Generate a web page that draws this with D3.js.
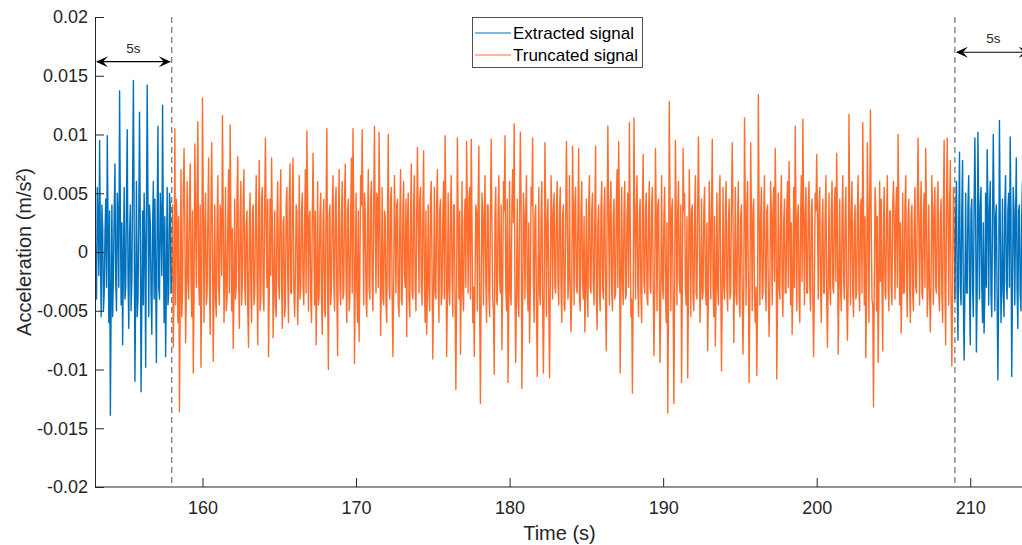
<!DOCTYPE html>
<html>
<head>
<meta charset="utf-8">
<script src="https://cdn.jsdelivr.net/npm/d3@7"></script>
<style>
  html, body { margin: 0; padding: 0; background: #fff; }
  svg { display: block; font-family: "Liberation Sans", Arial, Helvetica, sans-serif; }
</style>
</head>
<body>
<svg id="chart" width="1022" height="545"></svg>
<script>
// ---------------- data (acceleration in units of 1e-4 m/s²) ----------------
const sampleInterval = 0.05;          // s
const extractedStartTime = 153.0;     // s
const truncatedStartTime = 158.0;     // s
const extractedEndTime = 209.0;       // s

const extractedStart = [
  25, -15, -40, 55, 30, -20, 95, 10, -55, 40, 20, -50, -35, 15, 45, -30, 99, 20, -60, 35,
  -139, -45, 40, -55, -20, 35, 75, -25, -50, 50, 30, -30, 137, 40, -45, 25, -79, -10, 55, -40,
  -30, 45, 104, -20, -65, 15, 40, -50, -25, 60, 146, 30, -110, -35, 60, -55, -40, 30, 119, 20,
  -119, -40, 35, -45, 50, 10, -98, 30, 142, 45, -55, 40, 25, -35, -70, 20, 60, -40, 45, -25,
  -94, 35, 107, -30, -40, 50, 30, -20, 125, 15, -60, 30, -89, -25, 55, -45, -35, 50, 40, -35,
  -20
];

const truncated = [
  -20, 40, -81, -30, 105, -45, 45, 25, -60, 30, -136, -40, 70, -55, -35, 50, 88, 20, -77, -35,
  60, -25, -40, 45, 75, -20, -55, 35, -103, -40, 92, 30, -30, 55, 111, -25, -45, 40, -98, -30,
  131, 45, -60, 20, 50, -45, -35, 30, 80, -25, -70, 35, 93, 10, -93, -30, 40, -40, -55, 25,
  65, -30, -45, 40, 30, -20, 116, 35, -60, -25, 55, -50, -40, 25, 70, -35, 108, 30, -50, 20,
  -82, -35, 45, -40, -30, 50, 81, -20, -65, 30, 60, -45, -25, 40, 70, -30, -45, 25, 35, -50,
  -81, 20, 50, -30, -60, 35, 40, -45, -35, 25, 65, -20, -79, 30, 78, -50, -40, 45, 55, -35,
  -50, 40, 97, 20, -30, 45, -89, -35, 45, -20, 80, 25, -73, -30, 35, -45, -55, 30, 60, -25,
  -40, 35, 70, -30, -65, 25, 30, -55, -45, 40, 55, -20, -60, 45, 75, -35, -35, 50, 80, -30,
  -55, -20, 40, 35, -62, -25, 65, -40, -30, 35, 50, -30, -45, 25, 70, -35, 103, 40, -50, 30,
  35, -40, -60, 30, 84, 20, -45, 35, -79, -30, 60, -45, -35, 30, 50, -40, -70, 25, 45, -50,
  -55, 40, 105, -35, -100, 30, 40, -45, -30, 35, 65, -20, -50, 40, 55, -35, -88, 25, 70, -30,
  -45, 30, 60, -40, -35, 45, 75, -25, -60, 35, 45, -50, -40, 30, 80, -35, 105, 40, -95, -25,
  50, -30, -60, 35, -76, -20, 65, 40, 104, 30, -45, 50, 35, -40, -55, 25, 70, -30, -40, 45,
  60, -25, -50, 40, 107, 20, -35, 50, 45, -30, 102, 35, -71, -25, 55, -40, -45, 35, 30, -45,
  -60, 30, 100, -30, -40, 45, 55, -35, -89, -30, 65, 20, -35, 40, 45, -45, -55, 25, 70, -40,
  -45, 35, 60, -20, -30, 45, -72, 25, 50, -40, -55, 30, 75, -35, -40, 40, 65, -30, -50, 30,
  89, 25, -35, 45, 55, -30, -45, 30, 86, -25, -60, 35, -70, -35, 40, -30, -50, 45, 60, -20,
  -91, -30, 55, -35, -40, 40, 70, -25, -60, 35, 45, -45, -35, 30, 60, -40, 99, 35, -89, -40,
  50, -30, -45, 35, 65, -20, -55, 40, 40, -45, -117, -35, 97, 30, -40, 35, -87, -30, 60, -35,
  -50, 25, 45, -30, 94, 35, -35, 45, 55, -40, 96, 30, -60, -30, -89, -20, 40, 35, -50, 40,
  90, -45, -129, -30, 50, 30, -45, 35, 65, -25, -60, 40, 40, -35, -55, 30, 96, 25, -40, -50,
  -104, 35, 55, -40, -45, 30, 65, -25, -35, 40, -83, -30, 60, 35, 99, -30, -50, 45, -111, -40,
  60, -35, -45, 40, 70, 25, 109, -40, -94, -30, 45, -40, -55, 30, 102, 40, -116, -45, 50, 30,
  -40, 35, 65, -30, -50, 25, -77, -35, 55, 40, 97, -25, -60, 30, 40, -45, -106, -30, 55, -35,
  -45, 30, 60, -35, -103, -40, 93, 35, -55, 25, 45, -40, -107, -30, 65, 30, -40, 35, 50, -30,
  -35, 40, 60, -25, -45, 35, 55, -30, -60, 30, 40, -45, -50, 25, 94, 35, -40, -25, 65, -35,
  -68, -30, 90, 35, -45, 40, 55, -30, -35, 30, 88, -40, -50, 35, 60, -25, -40, 30, -68, -35,
  45, -30, -55, 40, 65, -30, -35, 35, 50, -25, -45, 30, 90, -40, -66, 25, 40, -35, -50, 35,
  60, -30, -40, 35, 55, -45, -84, 30, 107, 25, -45, 40, 60, -35, -50, 30, 45, -40, -35, 40,
  70, -30, 94, 40, -103, -35, 55, -25, -45, 35, 60, -40, -35, 30, 50, -30, 110, 35, -55, -40,
  -120, -35, 114, 30, -40, 35, 65, -30, -55, 30, 45, -35, -60, 40, 83, -25, -35, 35, 50, -40,
  -45, 35, 60, -30, -35, 40, 55, -25, -88, -35, 88, 30, -50, 40, 45, -35, -94, -30, 65, -25,
  -40, 30, 55, -35, -60, 25, -137, -40, 128, 40, -50, 35, 45, -40, -129, -30, 95, 30, -45, 35,
  60, -25, -35, 40, -111, -30, 88, 35, 50, -30, -45, 30, -107, -35, 70, 25, -55, 35, 40, -40,
  -50, 30, 65, -35, -40, 40, 98, 25, -60, -30, 45, -40, -35, 35, 55, -30, -45, 25, -84, -35,
  60, 25, -40, 35, 96, -30, -55, 30, -80, -35, 50, -30, -45, 40, 65, -25, -101, -35, 55, -30,
  -40, 35, 60, -30, -50, 25, 45, -40, -35, 40, 93, 30, -77, -25, 55, -35, -45, 30, 60, -40,
  -55, 30, 40, -35, -87, -30, 114, 35, -45, 40, 60, -30, -111, -35, 93, 30, -50, 35, 45, -40,
  -60, -30, -105, -40, 134, 35, -45, 30, 55, -40, -35, 30, 65, -25, -50, 35, 40, -35, -72, -30,
  60, 30, -45, 35, 55, -25, 88, 35, -108, -40, 50, -30, -40, 35, 65, -30, -55, 25, 45, -35,
  -35, 35, 60, -30, 77, 30, -45, 25, -70, -35, 55, -30, 107, 35, -50, 30, 40, -40, -60, 30,
  65, -25, 113, 35, -45, 30, 55, -35, -35, 40, 60, -30, -50, 35, 45, -40, -89, -30, 50, 35,
  83, 30, -40, 35, 55, -30, -60, 25, 45, -35, -35, 30, 65, -40, -81, -25, 50, -30, -45, 35,
  60, -30, -35, 40, 55, -25, 84, 30, -87, -35, 45, -30, -50, 35, 65, -25, -40, 30, 55, -35,
  -75, -30, 117, 35, -45, 30, 60, -35, -55, 25, 40, -40, -35, 35, 65, -30, -50, 40, 45, -35,
  110, 35, -45, 30, -90, -35, 93, 30, -60, 40, 121, 25, -40, -45, -132, -30, 55, 35, -50, 30,
  -94, -35, 60, -25, 45, -30, -84, 30, 55, -35, -40, 30, 65, -25, -50, 35, 35, -30, -45, 40,
  60, 25, -40, 35, 55, -30, 100, 30, -45, 25, -69, -30, 50, -35, -35, 40, 65, -25, -55, 30,
  45, -30, -60, 30, 40, -35, -50, 25, 55, -30, -35, 35, 97, 30, -45, 25, 60, -35, -40, 35,
  50, -30, 88, 35, -55, -30, 40, -35, -68, -25, 65, 30, -45, 35, 55, -30, -35, 40, 60, -35,
  -50, 30, 45, -35, -60, 40, 95, -30, -79, 35, 97, 30, -45, 35, 78, -40, -97, -30, 55, 30,
  -40
];

const extractedEnd = [
  -40, 30, 60, -35, -75, 25, 85, -30, -45, 35, 78, -40, -92, -30, 50, -35, -35, 40, 65, -30,
  -79, 35, 45, -30, -55, 40, 97, 30, -85, -35, 102, 35, -40, 40, 55, -30, -60, 25, -69, -35,
  50, -30, 87, 40, -45, 35, 60, -35, -55, 30, 100, 35, -50, 30, 40, -40, -109, -35, 112, 30,
  -60, -30, 45, -35, -55, 40, 65, -25, -40, 35, 50, -30, 98, 35, -106, -35, 55, 35, -45, 30,
  80, -30, -65, 35, 40, -35, -50, 30, 60, -30, -35
];

const xTicks = [160, 170, 180, 190, 200, 210];
const yTicks = [0.02, 0.015, 0.01, 0.005, 0, -0.005, -0.01, -0.015, -0.02];
const yTickLabels = ["0.02", "0.015", "0.01", "0.005", "0", "-0.005", "-0.01", "-0.015", "-0.02"];
const cutLines = [158, 209];
const seriesNames = ["Extracted signal", "Truncated signal"];
const arrowSpans = [
  { from: 158, to: 153, level: 0.0162, label: "5s" },
  { from: 209, to: 214, level: 0.0170, label: "5s" }
];

// ---------------- layout ----------------
const plot = { left: 95, right: 1024, top: 17, bottom: 487 };
const axisColor = "#262626";
const blue = "#0072BD";
const orange = "#FF6E2E";
const lw = 1.4;

const svg = d3.select("#chart");
const x = d3.scaleLinear().domain([153, 213.5]).range([plot.left, plot.right]);
const y = d3.scaleLinear().domain([-0.02, 0.02]).range([plot.bottom, plot.top]);

const toPoints = (arr, t0) => arr.map((v, i) => ({ t: t0 + i * sampleInterval, v: v * 1e-4 }));

svg.append("defs").append("clipPath").attr("id", "clip")
  .append("rect").attr("x", plot.left).attr("y", plot.top - 2)
  .attr("width", plot.right - plot.left).attr("height", plot.bottom - plot.top + 4);

const line = d3.line().x(d => x(d.t)).y(d => y(d.v));
const g = svg.append("g").attr("clip-path", "url(#clip)");

g.append("path").datum(toPoints(truncated, truncatedStartTime))
  .attr("d", line).attr("fill", "none").attr("stroke", orange)
  .attr("stroke-width", lw).attr("stroke-linejoin", "round");
g.append("path").datum(toPoints(extractedStart, extractedStartTime))
  .attr("d", line).attr("fill", "none").attr("stroke", blue)
  .attr("stroke-width", lw).attr("stroke-linejoin", "round");
g.append("path").datum(toPoints(extractedEnd, extractedEndTime))
  .attr("d", line).attr("fill", "none").attr("stroke", blue)
  .attr("stroke-width", lw).attr("stroke-linejoin", "round");

// dashed cut lines
svg.selectAll(".cut").data(cutLines).enter().append("line")
  .attr("x1", d => x(d)).attr("x2", d => x(d))
  .attr("y1", plot.top).attr("y2", plot.bottom)
  .attr("stroke", "#555").attr("stroke-width", 1)
  .attr("stroke-dasharray", "6,4");

// axes
const xAxis = d3.axisBottom(x).tickValues(xTicks).tickFormat(d3.format("d"))
  .tickSizeInner(-9).tickSizeOuter(0).tickPadding(14);
const gx = svg.append("g").attr("transform", `translate(0,${plot.bottom})`).call(xAxis);
gx.select(".domain").attr("stroke", axisColor).attr("d", `M${plot.left},0H${plot.right}`);
gx.selectAll(".tick line").attr("stroke", axisColor);
gx.selectAll(".tick text").attr("fill", axisColor).attr("font-size", 18)
  .attr("font-family", '"Liberation Sans", Arial, sans-serif');

const yAxis = d3.axisLeft(y).tickValues(yTicks)
  .tickFormat((d, i) => yTickLabels[i])
  .tickSizeInner(-9).tickSizeOuter(0).tickPadding(7);
const gy = svg.append("g").attr("transform", `translate(${plot.left},0)`).call(yAxis);
gy.select(".domain").attr("stroke", axisColor);
gy.selectAll(".tick line").attr("stroke", axisColor);
gy.selectAll(".tick text").attr("fill", axisColor).attr("font-size", 18)
  .attr("font-family", '"Liberation Sans", Arial, sans-serif');

// axis labels
svg.append("text").attr("x", (plot.left + plot.right) / 2).attr("y", 540)
  .attr("text-anchor", "middle").attr("font-size", 20).attr("fill", axisColor)
  .text("Time (s)");
svg.append("text").attr("transform", `translate(31,${(plot.top + plot.bottom) / 2}) rotate(-90)`)
  .attr("text-anchor", "middle").attr("font-size", 20).attr("fill", axisColor)
  .text("Acceleration (m/s²)");

// arrows
function arrowHead(xTip, yTip, dir) {
  const L = 12, Wd = 5.5, N = 7;
  return `M${xTip},${yTip} L${xTip - dir * L},${yTip - Wd} L${xTip - dir * N},${yTip} L${xTip - dir * L},${yTip + Wd} Z`;
}
arrowSpans.forEach(a => {
  const x1 = x(a.from), x2 = x(a.to), yy = y(a.level);
  const lo = Math.min(x1, x2), hi = Math.max(x1, x2);
  svg.append("line").attr("x1", lo + 2).attr("x2", hi - 2).attr("y1", yy).attr("y2", yy)
    .attr("stroke", "#000").attr("stroke-width", 1.2);
  svg.append("path").attr("d", arrowHead(lo + 1, yy, -1)).attr("fill", "#000");
  svg.append("path").attr("d", arrowHead(hi - 1, yy, 1)).attr("fill", "#000");
  svg.append("text").attr("x", (lo + hi) / 2).attr("y", yy - 9)
    .attr("text-anchor", "middle").attr("font-size", 13.5).attr("fill", "#262626")
    .text(a.label);
});

// legend
const lg = svg.append("g");
lg.append("rect").attr("x", 472.5).attr("y", 17.5).attr("width", 170).attr("height", 50)
  .attr("fill", "#fff").attr("stroke", "#262626").attr("stroke-width", 0.8);
[blue, orange].forEach((c, i) => {
  const yy = 33 + i * 22;
  lg.append("line").attr("x1", 475).attr("x2", 511).attr("y1", yy).attr("y2", yy)
    .attr("stroke", c).attr("stroke-width", 1.2);
  lg.append("text").attr("x", 513).attr("y", yy + 6).attr("font-size", 17)
    .attr("fill", "#000").text(seriesNames[i]);
});
</script>
</body>
</html>
